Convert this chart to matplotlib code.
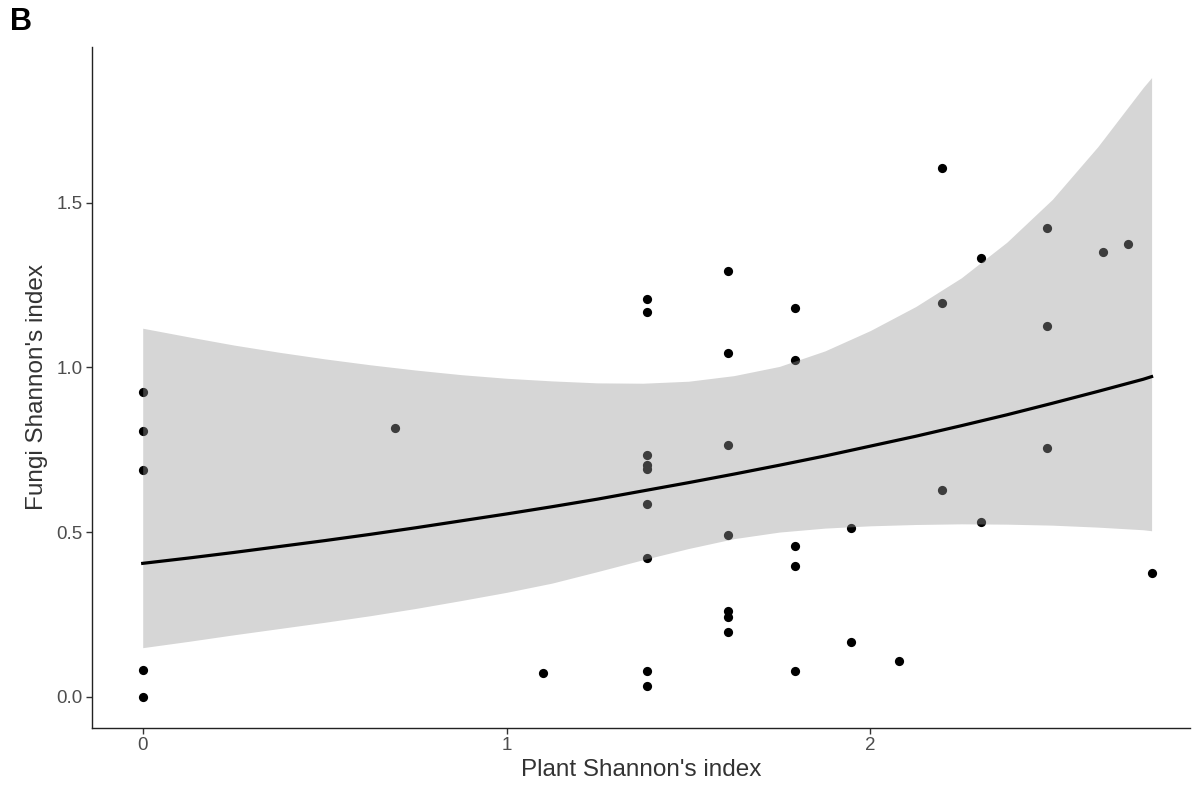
import numpy as np
import matplotlib.pyplot as plt

plt.rcParams['font.family'] = ['Liberation Sans', 'DejaVu Sans']

# points (plant index, fungi index)
plant = [0, 0, 0, 0, 0,
         0.693, 1.099,
         1.386, 1.386, 1.386, 1.386, 1.386, 1.386, 1.386, 1.386, 1.386,
         1.609, 1.609, 1.609, 1.609, 1.609, 1.609, 1.609,
         1.792, 1.792, 1.792, 1.792, 1.792,
         1.946, 1.946, 2.079,
         2.197, 2.197, 2.197, 2.303, 2.303,
         2.485, 2.485, 2.485, 2.639, 2.708, 2.773]
fungi = [0.925, 0.806, 0.688, 0.081, 0.0,
         0.816, 0.072,
         1.207, 1.169, 0.735, 0.705, 0.691, 0.584, 0.421, 0.079, 0.033,
         1.294, 1.045, 0.763, 0.492, 0.259, 0.242, 0.196,
         1.180, 1.021, 0.458, 0.396, 0.077,
         0.512, 0.166, 0.107,
         1.606, 1.195, 0.629, 1.332, 0.530,
         1.423, 1.127, 0.754, 1.351, 1.374, 0.377]

# fitted curve and confidence band
fit_x = [0, 0.125, 0.25, 0.375, 0.5, 0.625, 0.75, 0.875, 1.0, 1.125, 1.25, 1.375,
         1.5, 1.625, 1.75, 1.875, 2.0, 2.125, 2.25, 2.375, 2.5, 2.625, 2.75, 2.773]
fit_y = [0.405, 0.421, 0.438, 0.456, 0.474, 0.493, 0.513, 0.534, 0.555, 0.577, 0.600, 0.625,
         0.650, 0.676, 0.703, 0.731, 0.761, 0.791, 0.823, 0.856, 0.891, 0.927, 0.964, 0.972]
upper = [1.119, 1.093, 1.068, 1.046, 1.026, 1.008, 0.992, 0.978, 0.967, 0.959, 0.953, 0.952,
         0.958, 0.975, 1.003, 1.050, 1.112, 1.185, 1.272, 1.380, 1.510, 1.670, 1.850, 1.880]
lower = [0.149, 0.168, 0.188, 0.207, 0.226, 0.246, 0.268, 0.292, 0.317, 0.345, 0.380, 0.416,
         0.450, 0.480, 0.500, 0.512, 0.519, 0.523, 0.525, 0.524, 0.521, 0.515, 0.507, 0.504]

fig = plt.figure(figsize=(11.98, 7.85), dpi=100)
ax = fig.add_axes([0.0770, 0.0730, 0.9163, 0.8676])

ax.scatter(plant, fungi, s=44, color='black', linewidths=0, zorder=2)
ax.fill_between(fit_x, lower, upper, color='#999999', alpha=0.4, linewidth=0, zorder=3)
ax.plot(fit_x, fit_y, color='black', linewidth=2.3, zorder=4)

ax.set_xlim(-0.1387, 2.8785)
ax.set_ylim(-0.094, 1.974)
ax.set_xticks([0, 1, 2])
ax.set_xticklabels(['0', '1', '2'])
ax.set_yticks([0, 0.5, 1.0, 1.5])
ax.set_yticklabels(['0.0', '0.5', '1.0', '1.5'])

for s in ['top', 'right']:
    ax.spines[s].set_visible(False)
for s in ['left', 'bottom']:
    ax.spines[s].set_linewidth(1.0)
    ax.spines[s].set_color('#222222')
ax.tick_params(direction='out', length=4, width=1.0, color='#333333',
               labelsize=13.5, labelcolor='#4d4d4d', pad=3)

ax.set_xlabel("Plant Shannon's index", fontsize=17.5, color='#333333', labelpad=3)
ax.set_ylabel("Fungi Shannon's index", fontsize=17.5, color='#333333', labelpad=6)

fig.text(0.008, 0.972, 'B', fontsize=22, fontweight='bold', va='center', ha='left')

fig.savefig('out.png', dpi=100)
